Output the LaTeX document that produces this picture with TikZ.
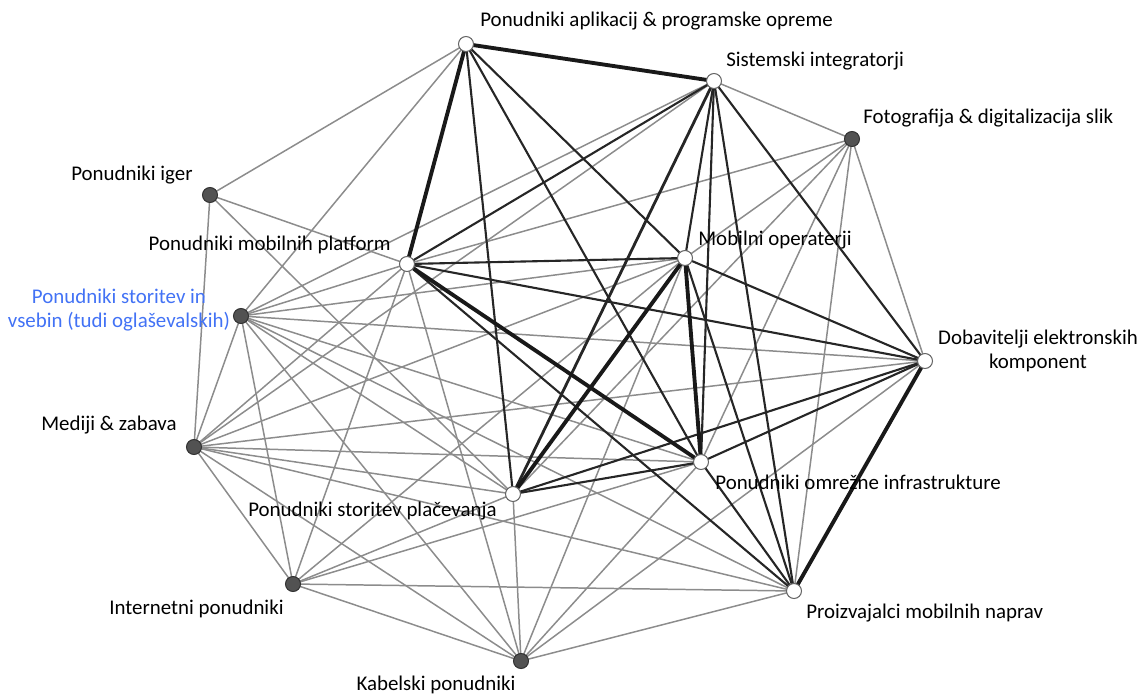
\documentclass[tikz,border=0pt]{standalone}
\usepackage{fontspec}
\setmainfont{Carlito}
\begin{document}
\begin{tikzpicture}[x=0.02cm,y=-0.02cm,
  wn/.style={circle,draw=black!60,fill=white,line width=0.6pt,inner sep=0pt,minimum size=0.3cm},
  dn/.style={circle,draw=black!80,fill=black!68,line width=0.6pt,inner sep=0pt,minimum size=0.3cm},
  lbl/.style={font=\fontsize{11.9}{14}\selectfont,inner sep=0pt},
  ge/.style={draw=black!45,line width=0.85pt},
  be/.style={draw=black!85,line width=1.2pt},
  te/.style={draw=black!90,line width=2.2pt}]
\useasboundingbox (0,0) rectangle (1139,694);
% coordinates
\coordinate (A) at (466,44);
\coordinate (S) at (714,81);
\coordinate (F) at (852,139);
\coordinate (G) at (210,195);
\coordinate (P) at (407,264);
\coordinate (O) at (685,258);
\coordinate (V) at (241,316);
\coordinate (D) at (925,361);
\coordinate (M) at (194,447);
\coordinate (N) at (701,462);
\coordinate (Pl) at (513,494);
\coordinate (I) at (293,584);
\coordinate (Pr) at (794,591);
\coordinate (K) at (521,661);
% gray edges
\foreach \a/\b in {G/A,G/P,G/Pl,G/M,
  V/A,V/P,V/O,V/S,V/N,V/Pl,V/Pr,V/D,V/I,V/K,V/M,
  M/P,M/O,M/S,M/N,M/Pl,M/Pr,M/D,M/K,M/I,
  I/P,I/O,I/N,I/Pl,I/Pr,I/K,
  K/P,K/O,K/N,K/Pl,K/Pr,K/D,
  F/S,F/P,F/O,F/Pl,F/N,F/Pr,F/D}
  \draw[ge] (\a) -- (\b);
% black edges
\foreach \a/\b in {A/Pl,A/O,A/N,S/P,S/O,S/N,S/Pr,S/D,P/O,P/Pr,P/D,O/D,O/Pr,N/D,Pl/D,Pl/N,N/Pr}
  \draw[be] (\a) -- (\b);
\draw[be,line width=1.6pt] (S) -- (Pl);
% thick edges
\foreach \a/\b in {A/S,A/P,O/N,O/Pl,D/Pr,P/N}
  \draw[te] (\a) -- (\b);
% nodes
\node[wn] (nA) at (A) {};
\node[wn] (nS) at (S) {};
\node[dn] (nF) at (F) {};
\node[dn] (nG) at (G) {};
\node[wn] (nP) at (P) {};
\node[wn] (nO) at (O) {};
\node[dn] (nV) at (V) {};
\node[wn] (nD) at (D) {};
\node[dn] (nM) at (M) {};
\node[wn] (nN) at (N) {};
\node[wn] (nPl) at (Pl) {};
\node[dn] (nI) at (I) {};
\node[wn] (nPr) at (Pr) {};
\node[dn] (nK) at (K) {};
% labels
\node[lbl,anchor=west] (tA) at (480,21) {Ponudniki aplikacij \& programske opreme};
\node[lbl,anchor=west] (tS) at (726,61) {Sistemski integratorji};
\node[lbl,anchor=west] (tF) at (863,118) {Fotografija \& digitalizacija slik};
\node[lbl,anchor=east] (tG) at (193,175) {Ponudniki iger};
\node[lbl,anchor=east] (tP) at (391,245) {Ponudniki mobilnih platform};
\node[lbl,anchor=west] (tO) at (698,240) {Mobilni operaterji};
\node[lbl,align=center,text={rgb,255:red,66;green,114;blue,245}] (tV) at (119,310) {Ponudniki storitev in\\vsebin (tudi oglaševalskih)};
\node[lbl,align=center] (tD) at (1038,351) {Dobavitelji elektronskih\\komponent};
\node[lbl,anchor=east] (tM) at (177,425) {Mediji \& zabava};
\node[lbl,anchor=west] (tN) at (715,482) {Ponudniki omrežne infrastrukture};
\node[lbl,anchor=east] (tPl) at (497,511) {Ponudniki storitev plačevanja};
\node[lbl,anchor=east] (tI) at (284,609) {Internetni ponudniki};
\node[lbl,anchor=west] (tPr) at (806,613) {Proizvajalci mobilnih naprav};
\node[lbl] (tK) at (436,685) {Kabelski ponudniki};
\end{tikzpicture}
\end{document}
